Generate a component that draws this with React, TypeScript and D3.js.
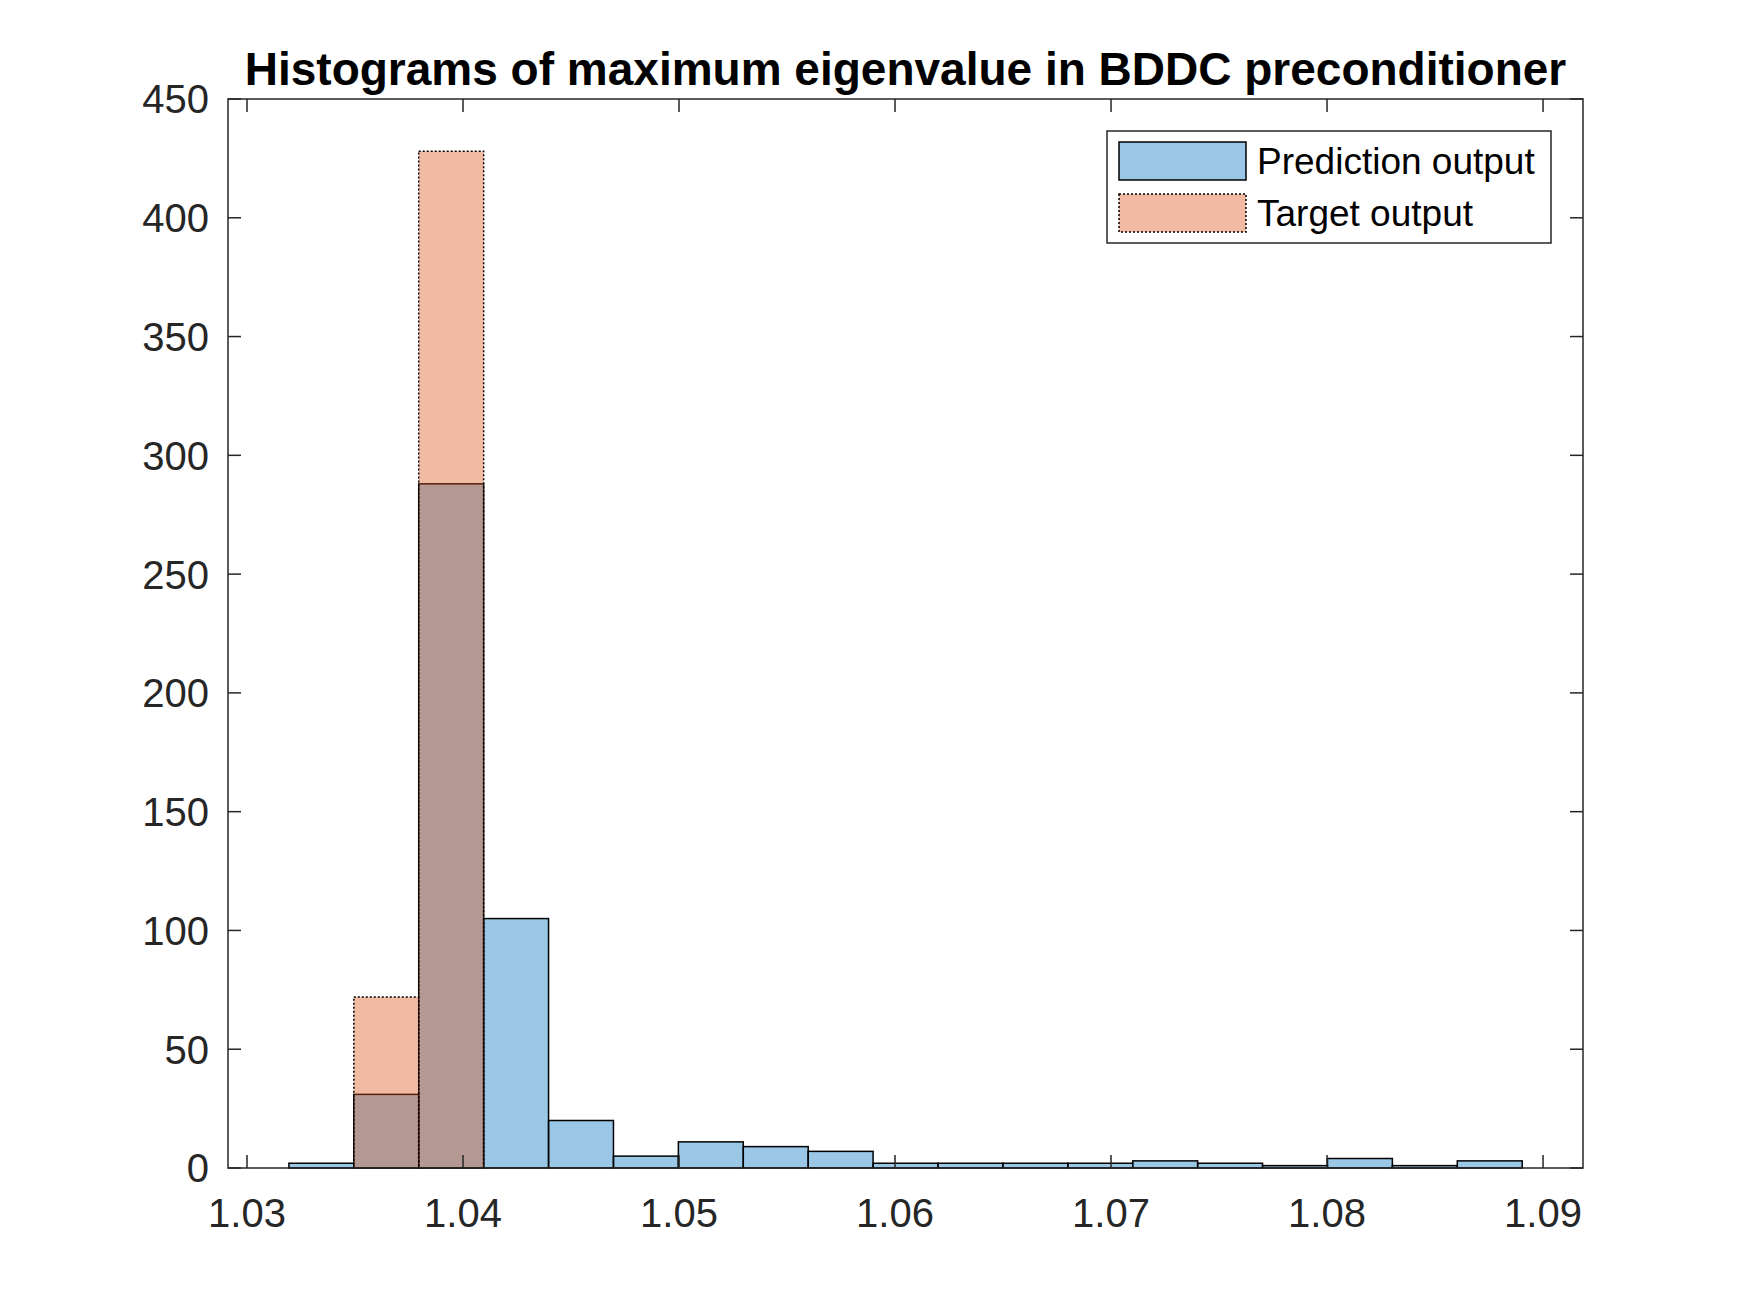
import React from 'react';
import { scaleLinear, format } from 'd3';

const width = 1750;
const height = 1313;
const margin = { left: 228, right: 167, top: 99, bottom: 145 };
const plotW = width - margin.left - margin.right;
const plotH = height - margin.top - margin.bottom;

// histogram bin edges (shared by both histograms)
const binEdges = [
  1.03194, 1.034945, 1.03795, 1.040955, 1.04396, 1.046965, 1.04997, 1.052975,
  1.05598, 1.058985, 1.06199, 1.064995, 1.068, 1.071005, 1.07401, 1.077015,
  1.08002, 1.083025, 1.08603, 1.089035,
];
const predictionCounts = [2, 31, 288, 105, 20, 5, 11, 9, 7, 2, 2, 2, 2, 3, 2, 1, 4, 1, 3];
// target output only fills bins 1 and 2
const targetBins = [1, 2];
const targetCounts = [72, 428];

const xTicks = [1.03, 1.04, 1.05, 1.06, 1.07, 1.08, 1.09];
const yTicks = [0, 50, 100, 150, 200, 250, 300, 350, 400, 450];

const titleText = 'Histograms of maximum eigenvalue in BDDC preconditioner';
const legendLabels = ['Prediction output', 'Target output'];

const blue = 'rgb(0,114,189)';
const orange = 'rgb(217,83,25)';
const axisColor = '#262626';
const fontFamily = '"Liberation Sans", Arial, Helvetica, sans-serif';
const tickLen = 13;

const x = scaleLinear().domain([1.02912, 1.09185]).range([0, plotW]);
const y = scaleLinear().domain([0, 450]).range([plotH, 0]);
const fmtX = format('.2f');

const App = () => (
  <svg
    width={width}
    height={height}
    style={{ position: 'absolute', left: 0, top: 0, background: 'white' }}
    fontFamily={fontFamily}
  >
    <rect width={width} height={height} fill='white' />
    <text
      x={margin.left + plotW / 2}
      y={85}
      textAnchor='middle'
      fontSize={46}
      fontWeight='bold'
      fill='black'
    >
      {titleText}
    </text>
    <g transform={`translate(${margin.left}, ${margin.top})`}>
      {predictionCounts.map((c, i) => (
        <rect
          key={`p${i}`}
          x={x(binEdges[i])}
          y={y(c)}
          width={x(binEdges[i + 1]) - x(binEdges[i])}
          height={y(0) - y(c)}
          fill={blue}
          fillOpacity={0.4}
          stroke='black'
          strokeWidth={1.5}
        />
      ))}
      {targetCounts.map((c, i) => {
        const b = targetBins[i];
        return (
          <rect
            key={`t${i}`}
            x={x(binEdges[b])}
            y={y(c)}
            width={x(binEdges[b + 1]) - x(binEdges[b])}
            height={y(0) - y(c)}
            fill={orange}
            fillOpacity={0.4}
            stroke='black'
            strokeWidth={1.5}
            strokeDasharray='2 2'
          />
        );
      })}

      {/* box */}
      <rect width={plotW} height={plotH} fill='none' stroke={axisColor} strokeWidth={1.5} />

      {xTicks.map(t => (
        <g key={`x${t}`} transform={`translate(${x(t)}, 0)`}>
          <line y1={plotH} y2={plotH - tickLen} stroke={axisColor} strokeWidth={1.5} />
          <line y1={0} y2={tickLen} stroke={axisColor} strokeWidth={1.5} />
          <text y={plotH + 59} textAnchor='middle' fontSize={40} fill={axisColor}>
            {fmtX(t)}
          </text>
        </g>
      ))}
      {yTicks.map(t => (
        <g key={`y${t}`} transform={`translate(0, ${y(t)})`}>
          <line x1={0} x2={tickLen} stroke={axisColor} strokeWidth={1.5} />
          <line x1={plotW} x2={plotW - tickLen} stroke={axisColor} strokeWidth={1.5} />
          <text x={-19} dy='0.36em' textAnchor='end' fontSize={40} fill={axisColor}>
            {t}
          </text>
        </g>
      ))}
    </g>

    {/* legend */}
    <g transform='translate(1107, 131)'>
      <rect width={444} height={112} fill='white' stroke={axisColor} strokeWidth={1.5} />
      {legendLabels.map((label, i) => (
        <g key={label} transform={`translate(0, ${11 + i * 52})`}>
          <rect
            x={12}
            width={127}
            height={38}
            fill={i === 0 ? blue : orange}
            fillOpacity={0.4}
            stroke='black'
            strokeWidth={1.5}
            strokeDasharray={i === 0 ? undefined : '2 2'}
          />
          <text x={150} y={19} dy='0.36em' fontSize={37} fill='black'>
            {label}
          </text>
        </g>
      ))}
    </g>
  </svg>
);

export default App;
